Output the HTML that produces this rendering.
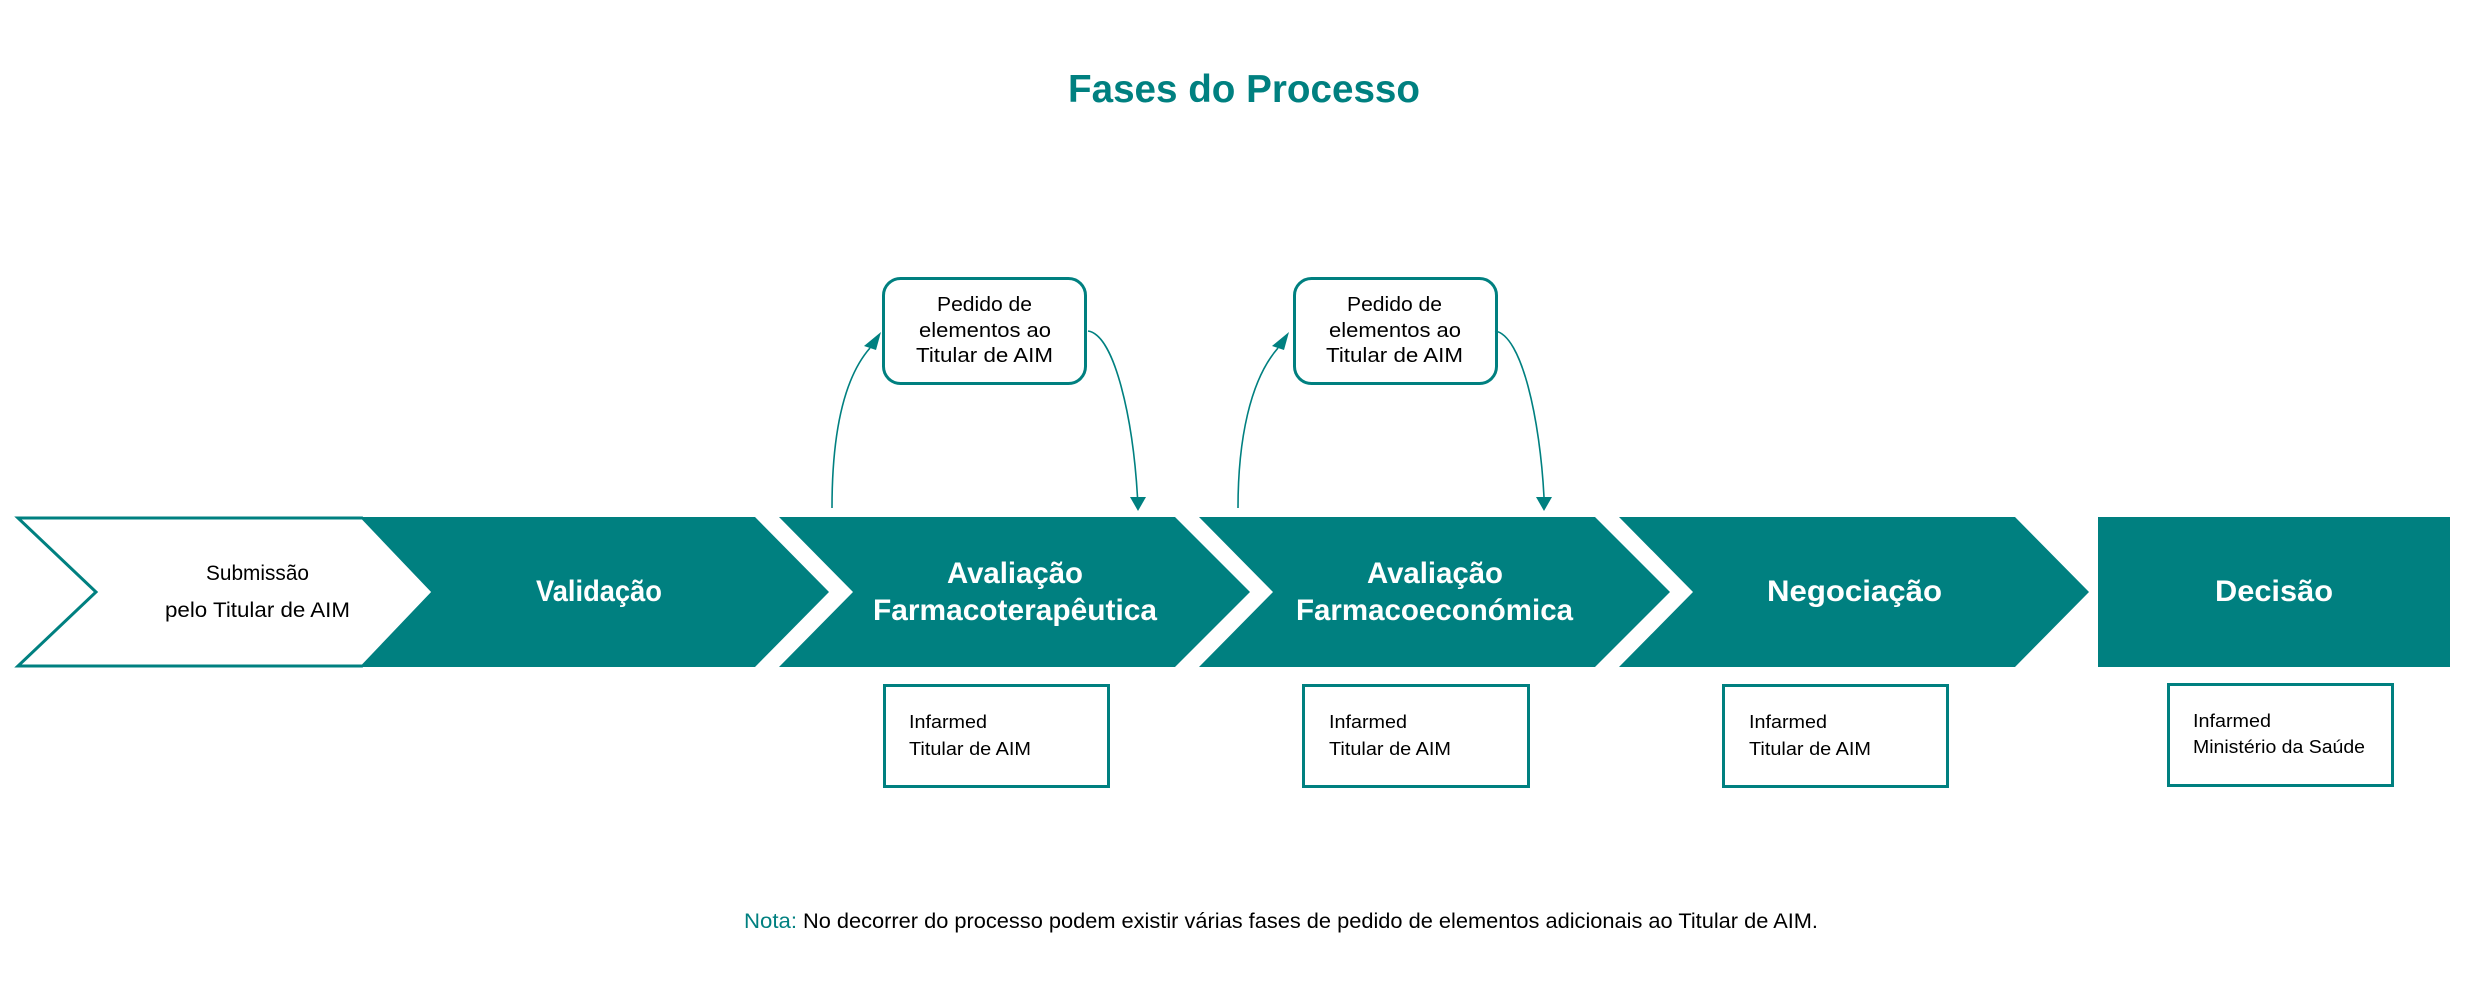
<!DOCTYPE html>
<html>
<head>
<meta charset="utf-8">
<style>
  html, body { margin:0; padding:0; background:#ffffff; }
  body { width:2486px; height:996px; overflow:hidden; }
  svg { display:block; }
  text { font-family: "Liberation Sans", Arial, sans-serif; }
</style>
</head>
<body>
<svg width="2486" height="996" viewBox="0 0 2486 996" xmlns="http://www.w3.org/2000/svg">
  <rect x="0" y="0" width="2486" height="996" fill="#ffffff"/>

  <!-- Title -->
  <text x="1068" y="102" font-size="39" font-weight="bold" fill="#008080" textLength="352" lengthAdjust="spacingAndGlyphs">Fases do Processo</text>

  <!-- Validação (teal, behind white chevron) -->
  <polygon points="300,517 755,517 829,592 755,667 300,667" fill="#008080"/>
  <!-- Submissão white chevron -->
  <polygon points="18,518 362,518 433,592 362,666 18,666 96,592" fill="#ffffff" stroke="#008080" stroke-width="3" stroke-linejoin="miter"/>
  <!-- cover the right diagonal edges so no outline shows against teal -->
  <polygon points="360,519.5 362,519.5 431,592 362,664.5 360,664.5" fill="#ffffff"/>

  <text x="206" y="580" font-size="21" fill="#000000" textLength="103" lengthAdjust="spacingAndGlyphs">Submissão</text>
  <text x="165" y="617" font-size="21" fill="#000000" textLength="185" lengthAdjust="spacingAndGlyphs">pelo Titular de AIM</text>

  <text x="536" y="601" font-size="30" font-weight="bold" fill="#ffffff" textLength="126" lengthAdjust="spacingAndGlyphs">Validação</text>

  <!-- Avaliação Farmacoterapêutica -->
  <polygon points="779,517 1175,517 1250,592 1175,667 779,667 853,592" fill="#008080"/>
  <text x="947" y="583" font-size="30" font-weight="bold" fill="#ffffff" textLength="136" lengthAdjust="spacingAndGlyphs">Avaliação</text>
  <text x="873" y="620" font-size="30" font-weight="bold" fill="#ffffff" textLength="284" lengthAdjust="spacingAndGlyphs">Farmacoterapêutica</text>

  <!-- Avaliação Farmacoeconómica -->
  <polygon points="1199,517 1595,517 1670,592 1595,667 1199,667 1273,592" fill="#008080"/>
  <text x="1367" y="583" font-size="30" font-weight="bold" fill="#ffffff" textLength="136" lengthAdjust="spacingAndGlyphs">Avaliação</text>
  <text x="1296" y="620" font-size="30" font-weight="bold" fill="#ffffff" textLength="277" lengthAdjust="spacingAndGlyphs">Farmacoeconómica</text>

  <!-- Negociação -->
  <polygon points="1619,517 2015,517 2089,592 2015,667 1619,667 1693,592" fill="#008080"/>
  <text x="1767" y="601" font-size="30" font-weight="bold" fill="#ffffff" textLength="175" lengthAdjust="spacingAndGlyphs">Negociação</text>

  <!-- Decisão -->
  <rect x="2098" y="517" width="352" height="150" fill="#008080"/>
  <text x="2215" y="601" font-size="30" font-weight="bold" fill="#ffffff" textLength="118" lengthAdjust="spacingAndGlyphs">Decisão</text>

  <!-- Bottom boxes -->
  <rect x="884.5" y="685.5" width="224" height="101" fill="#ffffff" stroke="#008080" stroke-width="3"/>
  <text x="909" y="728" font-size="18" fill="#000000" textLength="78" lengthAdjust="spacingAndGlyphs">Infarmed</text>
  <text x="909" y="755" font-size="18" fill="#000000" textLength="122" lengthAdjust="spacingAndGlyphs">Titular de AIM</text>

  <rect x="1303.5" y="685.5" width="225" height="101" fill="#ffffff" stroke="#008080" stroke-width="3"/>
  <text x="1329" y="728" font-size="18" fill="#000000" textLength="78" lengthAdjust="spacingAndGlyphs">Infarmed</text>
  <text x="1329" y="755" font-size="18" fill="#000000" textLength="122" lengthAdjust="spacingAndGlyphs">Titular de AIM</text>

  <rect x="1723.5" y="685.5" width="224" height="101" fill="#ffffff" stroke="#008080" stroke-width="3"/>
  <text x="1749" y="728" font-size="18" fill="#000000" textLength="78" lengthAdjust="spacingAndGlyphs">Infarmed</text>
  <text x="1749" y="755" font-size="18" fill="#000000" textLength="122" lengthAdjust="spacingAndGlyphs">Titular de AIM</text>

  <rect x="2168.5" y="684.5" width="224" height="101" fill="#ffffff" stroke="#008080" stroke-width="3"/>
  <text x="2193" y="727" font-size="18" fill="#000000" textLength="78" lengthAdjust="spacingAndGlyphs">Infarmed</text>
  <text x="2193" y="753" font-size="18" fill="#000000" textLength="172" lengthAdjust="spacingAndGlyphs">Ministério da Saúde</text>

  <!-- Upper rounded boxes -->
  <rect x="883.5" y="278.5" width="202" height="105" rx="17" ry="17" fill="#ffffff" stroke="#008080" stroke-width="3"/>
  <text x="937" y="311" font-size="20" fill="#000000" textLength="95" lengthAdjust="spacingAndGlyphs">Pedido de</text>
  <text x="919" y="337" font-size="20" fill="#000000" textLength="132" lengthAdjust="spacingAndGlyphs">elementos ao</text>
  <text x="916" y="362" font-size="20" fill="#000000" textLength="137" lengthAdjust="spacingAndGlyphs">Titular de AIM</text>

  <rect x="1294.5" y="278.5" width="202" height="105" rx="17" ry="17" fill="#ffffff" stroke="#008080" stroke-width="3"/>
  <text x="1347" y="311" font-size="20" fill="#000000" textLength="95" lengthAdjust="spacingAndGlyphs">Pedido de</text>
  <text x="1329" y="337" font-size="20" fill="#000000" textLength="132" lengthAdjust="spacingAndGlyphs">elementos ao</text>
  <text x="1326" y="362" font-size="20" fill="#000000" textLength="137" lengthAdjust="spacingAndGlyphs">Titular de AIM</text>

  <!-- Connectors -->
  <g fill="none" stroke="#008080" stroke-width="1.6">
    <path d="M832,508 C832,440 842,380 870,348"/>
    <path d="M1088,331 C1115,335 1133,420 1137.5,497"/>
    <path d="M1238,508 C1238,440 1250,380 1278,348"/>
    <path d="M1495,331 C1522,335 1540,420 1544,497"/>
  </g>
  <g fill="#008080">
    <polygon points="881,332 864,346 876,350"/>
    <polygon points="1130,497 1146,497 1138,511"/>
    <polygon points="1289,332 1272,346 1284,350"/>
    <polygon points="1536,497 1552,497 1544,511"/>
  </g>

  <!-- Note -->
  <text x="744" y="928" font-size="21" fill="#008080" textLength="53" lengthAdjust="spacingAndGlyphs">Nota:</text>
  <text x="803" y="928" font-size="21" fill="#000000" textLength="1015" lengthAdjust="spacingAndGlyphs">No decorrer do processo podem existir várias fases de pedido de elementos adicionais ao Titular de AIM.</text>
</svg>
</body>
</html>
